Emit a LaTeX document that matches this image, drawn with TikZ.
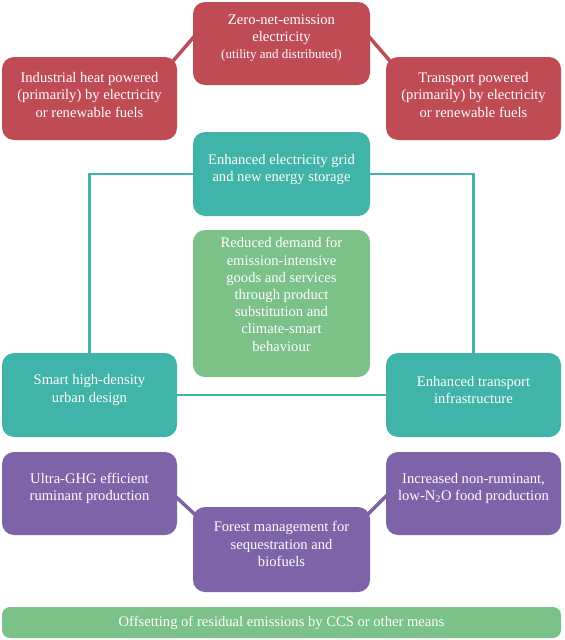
\documentclass[tikz,border=0pt]{standalone}
\usepackage{fontspec}
\setmainfont{Liberation Serif}
\usetikzlibrary{calc}
\definecolor{cred}{HTML}{BF4B55}
\definecolor{cteal}{HTML}{40B4A8}
\definecolor{cgreen}{HTML}{7CC187}
\definecolor{cpurple}{HTML}{7F63A8}
\pgfdeclarelayer{bg}
\pgfsetlayers{bg,main}
\begin{document}
\begin{tikzpicture}[x=1pt,y=-1pt,
  box/.style={rectangle, rounded corners=12pt, inner sep=0pt, minimum width=#1},
  box/.default=177pt,
  txt/.style={text=white, align=center, inner sep=0pt, font=\fontsize{14.6}{17.2}\selectfont},
  link/.style={line width=3.5pt},
  tlink/.style={line width=2.6pt, cteal}]
\useasboundingbox (0,0) rectangle (565,640);
% red row
\node[box, fill=cred, minimum height=83pt] (zn) at (281.5,43.5) {};
\node[box=175pt, fill=cred, minimum height=83pt] (ih) at (89.5,98.5) {};
\node[box=175pt, fill=cred, minimum height=83pt] (tp) at (473.5,98.5) {};
\node[txt] (znt) at (281.5,38) {Zero-net-emission\\electricity\\[-1pt]{\fontsize{13}{15}\selectfont (utility and distributed)}};
\node[txt] (iht) at (89.5,95) {Industrial heat powered\\(primarily) by electricity\\or renewable fuels};
\node[txt] (tpt) at (473.5,95) {Transport powered\\(primarily) by electricity\\or renewable fuels};
% teal
\node[box, fill=cteal, minimum height=84pt] (eg) at (281.5,174) {};
\node[txt] (egt) at (281.5,169.5) {Enhanced electricity grid\\and new energy storage};
\node[box, fill=cgreen, minimum height=147pt] (rd) at (281.5,303.5) {};
\node[txt] (rdt) at (281.5,294.5) {Reduced demand for\\emission-intensive\\goods and services\\through product\\substitution and\\climate-smart\\behaviour};
\node[box=175pt, fill=cteal, minimum height=84pt] (su) at (89.5,395) {};
\node[box=175pt, fill=cteal, minimum height=84pt] (et) at (473.5,395) {};
\node[txt] (sut) at (89.5,390) {Smart high-density\\urban design};
\node[txt] (ett) at (473.5,390) {Enhanced transport\\infrastructure};
% purple
\node[box=175pt, fill=cpurple, minimum height=83pt] (ug) at (89.5,493.5) {};
\node[box=175pt, fill=cpurple, minimum height=83pt] (in) at (473.5,493.5) {};
\node[box, fill=cpurple, minimum height=85pt] (fm) at (281.5,549.5) {};
\node[txt] (ugt) at (89.5,488.5) {Ultra-GHG efficient\\ruminant production};
\node[txt] (int) at (473.5,488.5) {Increased non-ruminant,\\low-N\textsubscript{2}O food production};
\node[txt] (fmt) at (281.5,544) {Forest management for\\sequestration and\\biofuels};
% offset bar
\node[rectangle, rounded corners=8pt, fill=cgreen, minimum width=559pt, minimum height=31pt, inner sep=0pt] (of) at (281.5,622.5) {};
\node[txt] (oft) at (281.5,623) {Offsetting of residual emissions by CCS or other means};
% connectors
\begin{pgfonlayer}{bg}
\draw[link, cred] ($(ih.north east)+(-10,11)$) -- ($(zn.west)+(10,-17)$);
\draw[link, cred] ($(zn.east)+(-10,-17)$) -- ($(tp.north west)+(10,11)$);
\draw[tlink] (eg.west) -| (su.north);
\draw[tlink] (eg.east) -| (et.north);
\draw[tlink] (su.east) -- (et.west);
\draw[link, cpurple] ($(ug.east)+(-8,-3)$) -- ($(fm.north west)+(10,15)$);
\draw[link, cpurple] ($(fm.north east)+(-10,15)$) -- ($(in.west)+(8,-5)$);
\end{pgfonlayer}
\end{tikzpicture}
\end{document}
